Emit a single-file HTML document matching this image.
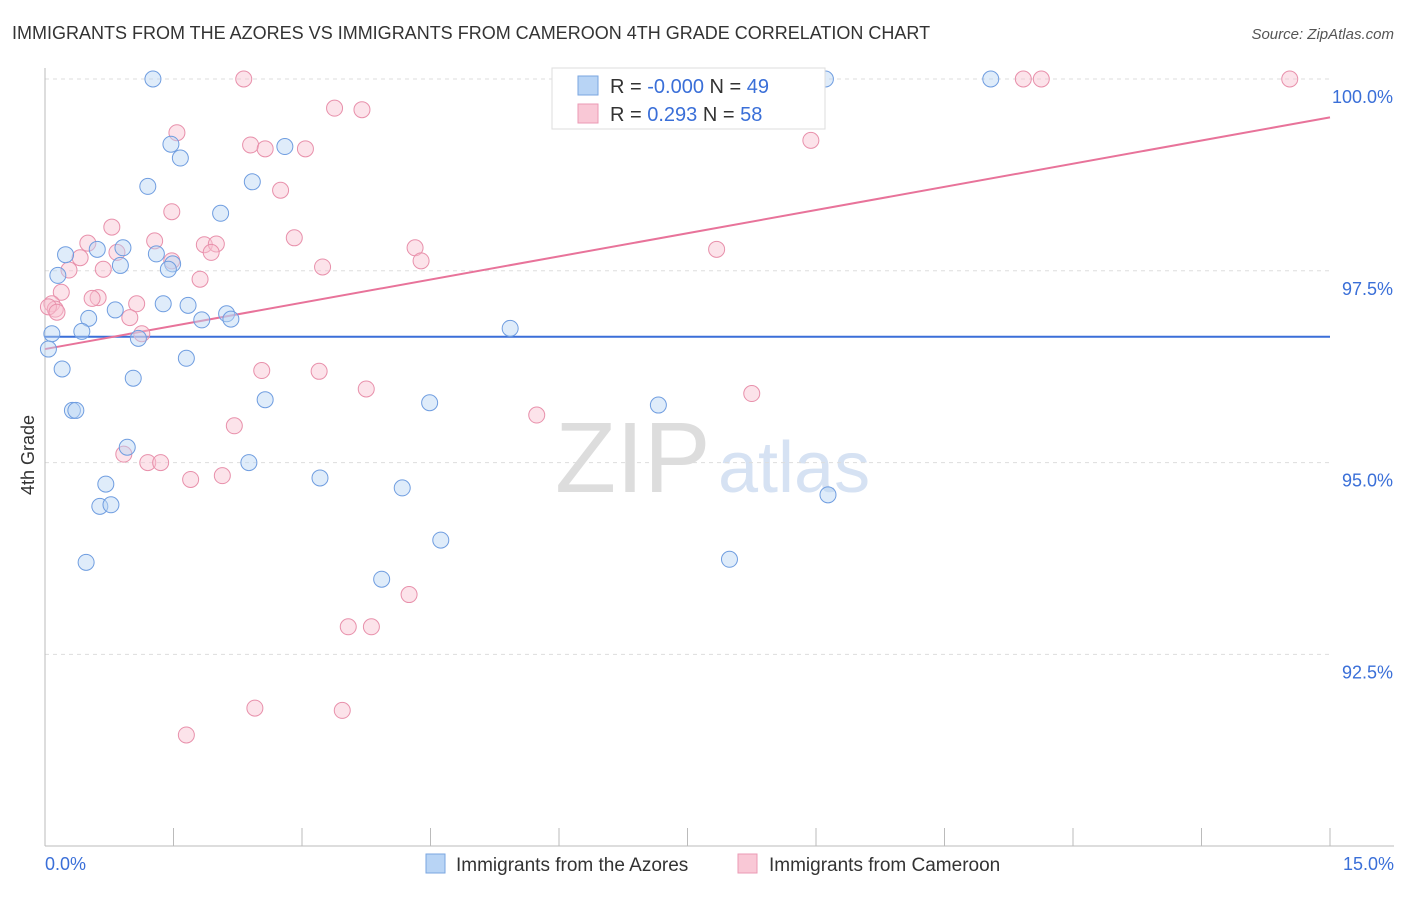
<!DOCTYPE html>
<html><head><meta charset="utf-8"><style>
body{margin:0;background:#fff;font-family:"Liberation Sans",sans-serif}
svg text{font-family:"Liberation Sans",sans-serif}
</style></head><body>
<svg width="1406" height="892" id="chart">
<text x="12" y="39" font-size="18" fill="#333">IMMIGRANTS FROM THE AZORES VS IMMIGRANTS FROM CAMEROON 4TH GRADE CORRELATION CHART</text>
<text x="1394" y="39" font-size="15" fill="#555" text-anchor="end" font-style="italic">Source: ZipAtlas.com</text>
<text x="34" y="455" font-size="18" fill="#333" transform="rotate(-90 34 455)" text-anchor="middle">4th Grade</text>
<text x="555" y="492" font-size="100" fill="#ddd" font-family="Liberation Serif">ZIP</text>
<text x="718" y="492" font-size="72" fill="#d6e2f3">atlas</text>
<g id="grid"></g><g id="axes"></g><g id="lines"></g><g id="pts"></g>
<g>
<rect x="552" y="68" width="273" height="61" fill="#fff" stroke="#ddd"/>
<rect x="578" y="76" width="20" height="19" fill="#b8d4f5" stroke="#7aa6e0"/>
<rect x="578" y="104" width="20" height="19" fill="#f9c8d6" stroke="#eb9ab4"/>
<text x="610" y="93" font-size="20" fill="#333">R = <tspan fill="#3a6fd8">-0.000</tspan>   N = <tspan fill="#3a6fd8">49</tspan></text>
<text x="610" y="121" font-size="20" fill="#333">R =   <tspan fill="#3a6fd8">0.293</tspan>   N = <tspan fill="#3a6fd8">58</tspan></text>
</g>
<g>
<rect x="426" y="854" width="19" height="19" fill="#b8d4f5" stroke="#7aa6e0"/>
<text x="456" y="871" font-size="19" fill="#333">Immigrants from the Azores</text>
<rect x="738" y="854" width="19" height="19" fill="#f9c8d6" stroke="#eb9ab4"/>
<text x="769" y="871" font-size="19" fill="#333">Immigrants from Cameroon</text>
</g>
</svg>
<script>
const yTicks=[100,97.5,95,92.5];
const yTickLabels=["100.0%","97.5%","95.0%","92.5%"];
const xLabels=["0.0%","15.0%"];
const blueX=[1.26,1.47,1.58,1.2,2.42,2.8,2.05,0.24,0.61,0.91,1.3,1.49,0.88,0.15,1.44,1.38,1.67,0.82,0.51,2.12,2.17,1.83,0.43,0.08,1.09,5.43,0.04,0.2,1.65,1.03,0.32,0.36,2.57,4.49,7.16,0.96,2.38,3.21,0.71,0.64,0.77,4.17,9.14,4.62,0.48,7.99,3.93,9.11,11.04];
const blueY=[100,99.15,98.97,98.6,98.66,99.12,98.25,97.71,97.78,97.8,97.72,97.59,97.57,97.44,97.52,97.07,97.05,96.99,96.88,96.94,96.87,96.86,96.71,96.68,96.62,96.75,96.48,96.22,96.36,96.1,95.68,95.68,95.82,95.78,95.75,95.2,95,94.8,94.72,94.43,94.45,94.67,94.58,93.99,93.7,93.74,93.48,100,100];
const pinkX=[2.32,6.66,11.42,11.63,14.53,3.38,3.7,1.54,2.4,2.57,3.04,8.94,2.75,1.48,0.78,2.91,1.28,0.5,1.86,2.0,1.94,0.84,4.32,4.39,7.84,1.48,0.41,3.24,0.28,0.68,1.81,0.19,0.62,0.55,1.07,0.08,0.12,0.99,1.13,2.53,3.2,3.75,8.25,5.74,2.21,0.92,1.2,1.35,1.7,2.07,4.25,3.54,3.81,2.45,3.47,1.65,0.04,0.14];
const pinkY=[100,100,100,100,100,99.62,99.6,99.3,99.14,99.09,99.09,99.2,98.55,98.27,98.07,97.93,97.89,97.86,97.84,97.85,97.74,97.74,97.8,97.63,97.78,97.63,97.67,97.55,97.51,97.52,97.39,97.22,97.15,97.14,97.07,97.07,97.0,96.89,96.68,96.2,96.19,95.96,95.9,95.62,95.48,95.11,95.0,95.0,94.78,94.83,93.28,92.86,92.86,91.8,91.77,91.45,97.03,96.96];
const blueLine=[96.64,96.64];
const pinkLine=[96.48,99.5];
const NS="http://www.w3.org/2000/svg";
const X=v=>45+v*(1285/15), Y=v=>79+(100-v)*76.72;
function mk(t,a,p){const e=document.createElementNS(NS,t);for(const k in a)e.setAttribute(k,a[k]);p.appendChild(e);return e;}
const grid=document.getElementById('grid'),axes=document.getElementById('axes'),lines=document.getElementById('lines'),pts=document.getElementById('pts');
yTicks.forEach((t,i)=>{
 const l=mk('line',{x1:45,x2:1330,y1:Y(t),y2:Y(t),stroke:'#ddd','stroke-dasharray':'4,4'},grid);
 
 
 const tx=mk('text',{x:1393,y:Y(t)+24,'font-size':18,fill:'#3a6fd8','text-anchor':'end'},grid);
 tx.textContent=yTickLabels[i];
 
 
});
const ax=mk('line',{x1:45,x2:45,y1:68,y2:846,stroke:'#bbb'},axes);


const bx=mk('line',{x1:45,x2:1394,y1:846,y2:846,stroke:'#bbb'},axes);


for(let i=0;i<=10;i++){const x=45+i*128.5;const t=mk('line',{x1:x,x2:x,y1:828,y2:846,stroke:'#bbb'},axes);
 
 }
[[0,'start',45],[15,'end',1394]].forEach((d,i)=>{const t=mk('text',{x:d[2],y:870,'font-size':18,fill:'#3a6fd8','text-anchor':d[1]},axes);t.textContent=xLabels[i];
 
 });
function dots(xs,ys,fill,stroke,name){xs.forEach((v,i)=>{const c=mk('circle',{cx:X(v),cy:Y(ys[i]),r:8,fill:fill,'fill-opacity':0.45,stroke:stroke,'stroke-width':1},pts);
 
 });}
dots(pinkX,pinkY,'#f9c0d0','#e890ab','point-cameroon');
dots(blueX,blueY,'#b8d4f5','#6f9de0','point-azores');
const l1=mk('line',{x1:X(0),x2:X(15),y1:Y(blueLine[0]),y2:Y(blueLine[1]),stroke:'#3a6fd8','stroke-width':2},lines);


const l2=mk('line',{x1:X(0),x2:X(15),y1:Y(pinkLine[0]),y2:Y(pinkLine[1]),stroke:'#e8739a','stroke-width':2},lines);


</script>
</body></html>
